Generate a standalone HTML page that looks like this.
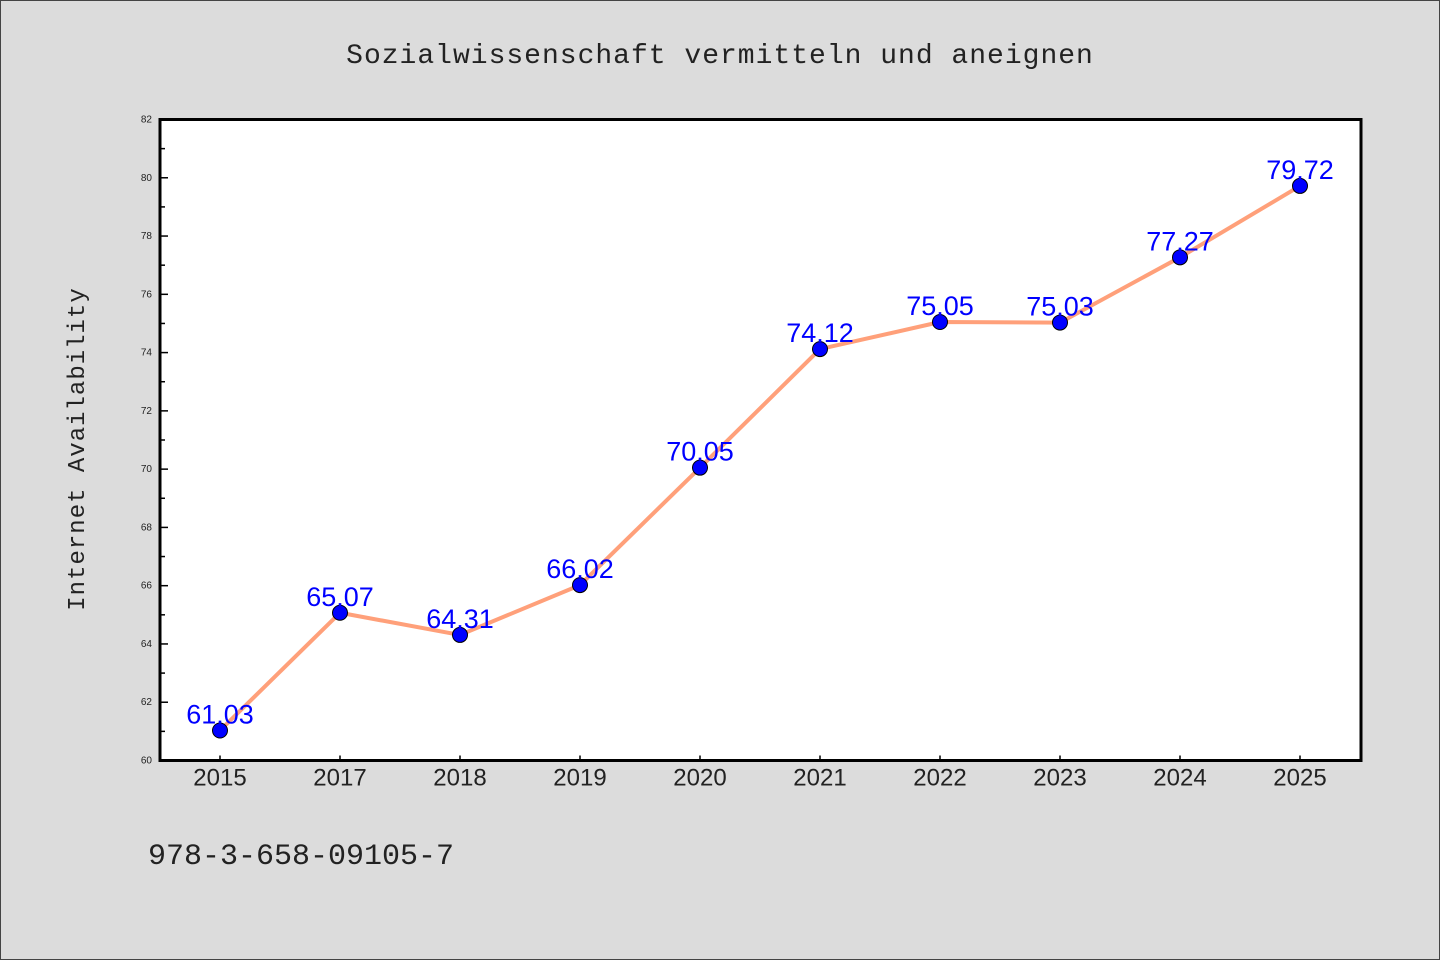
<!DOCTYPE html>
<html><head><meta charset="utf-8"><style>
body{margin:0;background:#dcdcdc;}
svg{display:block;font-family:"Liberation Sans","WenQuanYi Zen Hei",sans-serif;}
</style></head><body>
<svg id="chart" width="1440" height="960">
<rect x="0.5" y="0.5" width="1439" height="959" fill="#dcdcdc" stroke="#444"/>
<text x="720" y="63" text-anchor="middle" font-size="28" fill="#222" font-family="'WenQuanYi Zen Hei','Liberation Mono',monospace" letter-spacing="1">Sozialwissenschaft vermitteln und aneignen</text>
<text transform="translate(84,449) rotate(-90)" text-anchor="middle" font-size="24" fill="#222" font-family="'WenQuanYi Zen Hei','Liberation Mono',monospace" letter-spacing="1">Internet Availability</text>
<text x="148" y="864" font-size="30" fill="#222" font-family="'WenQuanYi Zen Hei','Liberation Mono',monospace">978-3-658-09105-7</text>
<rect x="160" y="119.5" width="1201" height="641" fill="#fff"/>
<g id="axes"></g>
<g id="marks"></g>
<rect x="160" y="119.5" width="1201" height="641" fill="none" stroke="#000" stroke-width="3"/>
</svg>
<script>
const categories=["2015","2017","2018","2019","2020","2021","2022","2023","2024","2025"];
const values=[61.03,65.07,64.31,66.02,70.05,74.12,75.05,75.03,77.27,79.72];
const labels=["61.03","65.07","64.31","66.02","70.05","74.12","75.05","75.03","77.27","79.72"];
const yTicks=[60,62,64,66,68,70,72,74,76,78,80,82];
const NS="http://www.w3.org/2000/svg";
const L=160,R=1360,T=119.5,B=760.5,yMin=60,yMax=82;
const step=(R-L)/categories.length;
function xs(i){return L+step*(i+0.5);}
function ys(v){return B-(v-yMin)/(yMax-yMin)*(B-T);}
function mk(tag,attrs,parent){const e=document.createElementNS(NS,tag);for(const k in attrs)e.setAttribute(k,attrs[k]);parent.appendChild(e);return e;}
const axes=document.getElementById('axes'),marks=document.getElementById('marks');
yTicks.forEach((t,i)=>{
  const y=ys(t);
  const tk=mk('line',{x1:L,x2:L+8,y1:y,y2:y,stroke:'#000','stroke-width':1.5},axes);
  
  
  const tx=mk('text',{x:L-8,y:y+3,'text-anchor':'end','font-size':10,fill:'#222'},axes);
  tx.textContent=t;
  
  
  if(i<yTicks.length-1){
    const ym=ys(t+1);
    const mn=mk('line',{x1:L,x2:L+5,y1:ym,y2:ym,stroke:'#000','stroke-width':1.5},axes);
    
    
  }
});
categories.forEach((c,i)=>{
  const x=xs(i);
  const tk=mk('line',{x1:x,x2:x,y1:B,y2:B-5,stroke:'#000','stroke-width':1.5},axes);
  
  
  const tx=mk('text',{x:x,y:B+25,'text-anchor':'middle','font-size':24,fill:'#222'},axes);
  tx.textContent=c;
  
  
});
const pts=values.map((v,i)=>xs(i)+','+ys(v)).join(' ');
const line=mk('polyline',{points:pts,fill:'none',stroke:'#ffa07a','stroke-width':4,'stroke-linejoin':'round'},marks);


values.forEach((v,i)=>{
  const c=mk('circle',{cx:xs(i),cy:ys(v),r:7.5,fill:'#0000ff',stroke:'#000','stroke-width':1},marks);
  
  
});
values.forEach((v,i)=>{
  const t=mk('text',{x:xs(i),y:ys(v)-7,'text-anchor':'middle','font-size':27,fill:'#0000ff'},marks);
  t.textContent=labels[i];
  
  
});
</script>
</body></html>
